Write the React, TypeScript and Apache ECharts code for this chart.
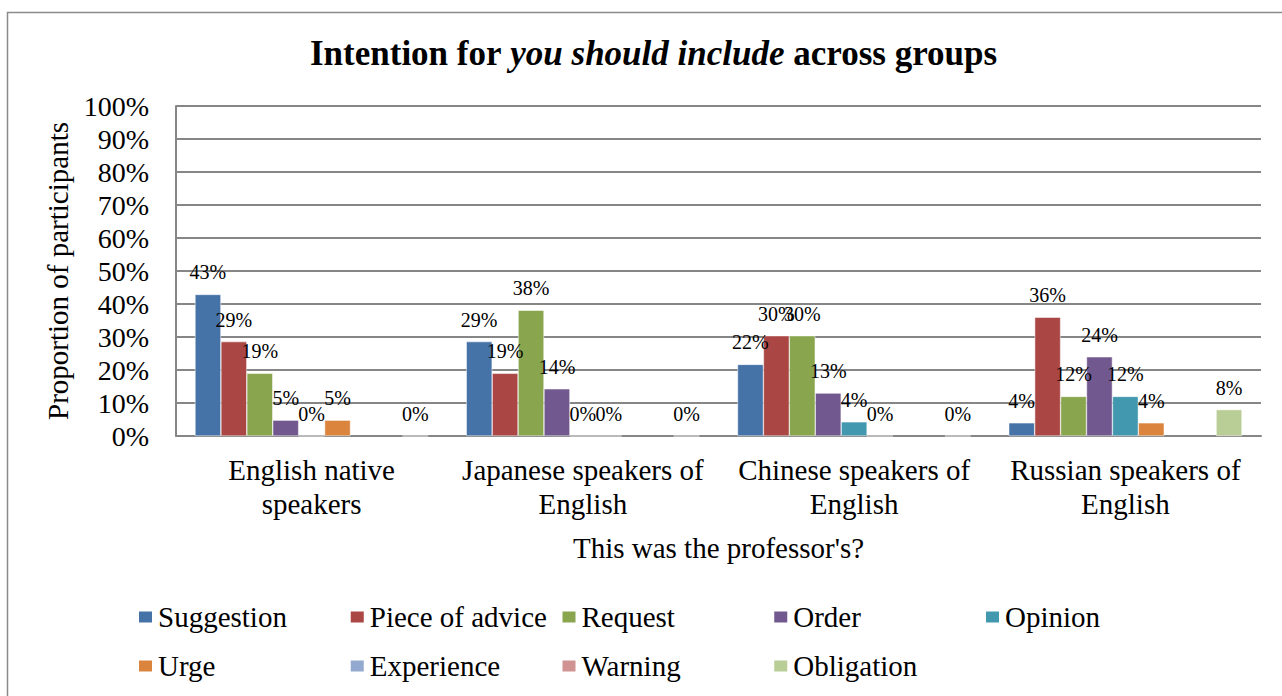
import React, { useEffect, useRef } from "react";
import * as echarts from "echarts";

const categories = [
  "English native\nspeakers",
  "Japanese speakers of\nEnglish",
  "Chinese speakers of\nEnglish",
  "Russian speakers of\nEnglish",
];
const seriesNames = [
  "Suggestion",
  "Piece of advice",
  "Request",
  "Order",
  "Opinion",
  "Urge",
  "Experience",
  "Warning",
  "Obligation",
];
const suggestion = [42.9, 28.6, 21.7, 4];
const pieceOfAdvice = [28.6, 19, 30.4, 36];
const request = [19, 38.1, 30.4, 12];
const order = [4.8, 14.3, 13, 24];
const opinion = [0, 0, 4.3, 12];
const urge = [4.8, 0, 0, 4];
const experience = [null, null, null, null];
const warning = [null, null, null, null];
const obligation = [0, 0, 0, 8];
const seriesValues = [suggestion, pieceOfAdvice, request, order, opinion, urge, experience, warning, obligation];
const colors = ["#4572A7", "#AA4643", "#89A54E", "#71588F", "#4198AF", "#DB843D", "#93A9CF", "#D19392", "#B9CD96"];
const yTicks = [0, 10, 20, 30, 40, 50, 60, 70, 80, 90, 100];

const FONT = "Liberation Serif";

export default function App() {
  const ref = useRef<HTMLDivElement>(null);
  useEffect(() => {
    if (!ref.current) return;
    const chart = echarts.init(ref.current, null, { renderer: "svg" });
    const legendCommon = {
      itemWidth: 15,
      itemHeight: 13,
      itemGap: 10,
      icon: "rect",
      padding: 0,
      selectedMode: false,
      textStyle: { fontFamily: FONT, fontSize: 29, lineHeight: 30, color: "#000", width: 180.75, padding: 0 },
    };
    chart.setOption({
      animation: false,
      textStyle: { fontFamily: FONT },
      title: {
        text: "{b|Intention for }{i|you should include}{b| across groups}",
        left: 305,
        top: 31,
        textStyle: {
          fontFamily: FONT,
          rich: {
            b: { fontFamily: FONT, fontSize: 35, fontWeight: "bold", color: "#000" },
            i: { fontFamily: FONT, fontSize: 35, fontWeight: "bold", fontStyle: "italic", color: "#000" },
          },
        },
      },
      graphic: [
        {
          type: "rect",
          shape: { x: 7.5, y: 12.5, width: 1300, height: 720 },
          style: { fill: "none", stroke: "#8a8a8a", lineWidth: 1.5 },
          silent: true,
        },
      ],
      legend: [
        { ...legendCommon, left: 137, top: 602, data: seriesNames.slice(0, 5) },
        { ...legendCommon, left: 137, top: 651, data: seriesNames.slice(5) },
      ],
      grid: { left: 176, top: 106, right: 21, bottom: 260, containLabel: false },
      xAxis: {
        type: "category",
        data: categories,
        name: "This was the professor's?",
        nameLocation: "middle",
        nameGap: 97,
        nameTextStyle: { fontFamily: FONT, fontSize: 29, color: "#000" },
        axisLine: { show: true, lineStyle: { color: "#868686", width: 2 } },
        axisTick: { show: false },
        axisLabel: { interval: 0, fontFamily: FONT, fontSize: 29, color: "#000", lineHeight: 34, margin: 17 },
      },
      yAxis: {
        type: "value",
        min: yTicks[0],
        max: yTicks[yTicks.length - 1],
        interval: 10,
        name: "Proportion of participants",
        nameLocation: "middle",
        nameGap: 100,
        nameTextStyle: { fontFamily: FONT, fontSize: 29, color: "#000" },
        axisLine: { show: true, lineStyle: { color: "#868686", width: 2 } },
        axisTick: { show: false },
        splitLine: { lineStyle: { color: "#868686", width: 2 } },
        axisLabel: { fontFamily: FONT, fontSize: 28, color: "#000", margin: 27, formatter: "{value}%" },
      },
      series: seriesNames.map((name, i) => ({
        name,
        type: "bar",
        data: seriesValues[i],
        barGap: "0%",
        barCategoryGap: "14%",
        itemStyle: { color: colors[i], borderColor: "#fff", borderWidth: 0.5 },
        label: {
          show: true,
          position: "top",
          distance: 12,
          fontFamily: FONT,
          fontSize: 20,
          color: "#000",
          formatter: (p: any) => (p.value == null ? "" : Math.round(p.value) + "%"),
        },
      })),
    });
    return () => chart.dispose();
  }, []);
  return <div ref={ref} style={{ position: "absolute", left: 0, top: 0, width: 1282, height: 696 }} />;
}
